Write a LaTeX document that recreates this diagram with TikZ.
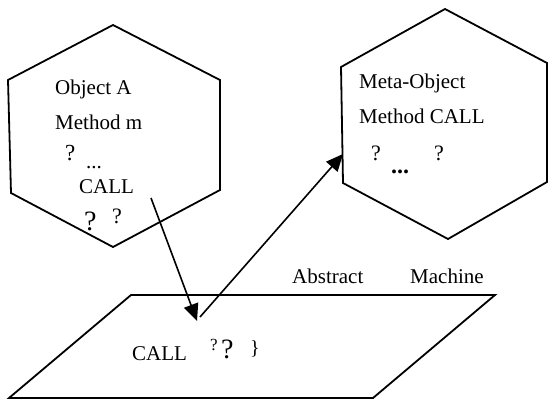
\documentclass[tikz,border=0pt]{standalone}
\usepackage{fontspec}
\setmainfont{Liberation Serif}
\usetikzlibrary{arrows.meta}
\tikzset{
  shapeline/.style={line width=1.8pt, line join=miter},
  conn/.style={line width=1.6pt, -{Triangle[length=17pt,width=15pt]}},
  txt/.style={anchor=base west, inner sep=0pt, font=\fontsize{21}{24}\selectfont},
  qm/.style={anchor=base west, inner sep=0pt},
}
\begin{document}
\begin{tikzpicture}[x=1pt,y=-1pt]
\useasboundingbox (0,0) rectangle (548,400);
% Object A hexagon
\draw[shapeline] (113,25) -- (220,80) -- (220,190) -- (113,247) -- (11,193) -- (8,80) -- cycle;
% Meta-Object hexagon
\draw[shapeline] (445,9) -- (547,63) -- (547,182) -- (448,239) -- (343,183) -- (341,67) -- cycle;
% Abstract machine plane
\draw[shapeline] (131,295) -- (495,295) -- (373,398) -- (9,398) -- cycle;
% texts in Object A
\node[txt] (oa) at (55,94) {Object A};
\node[txt] (mm) at (55,129) {Method m};
\node[qm, font=\fontsize{23}{24}\selectfont] (q1) at (65,160) {?};
\node[txt] (d1) at (86,168) {...};
\node[txt] (c1) at (79,193) {CALL};
\node[qm, font=\fontsize{28}{30}\selectfont] (q2) at (84,230) {?};
\node[qm, font=\fontsize{22}{24}\selectfont] (q3) at (112,223) {?};
% texts in Meta-Object
\node[txt] (mo) at (359,88) {Meta-Object};
\node[txt] (mc) at (359,123) {Method CALL};
\node[qm, font=\fontsize{22}{24}\selectfont] (q4) at (371,160) {?};
\node[txt, font=\fontsize{24}{24}\selectfont\bfseries] (d2) at (391,173) {...};
\node[qm, font=\fontsize{22}{24}\selectfont] (q5) at (434,160) {?};
% texts on plane
\node[txt] (ab) at (292,283) {Abstract};
\node[txt] (ma) at (410,283) {Machine};
\node[txt] (c2) at (132,360) {CALL};
\node[qm, font=\fontsize{17}{18}\selectfont] (q6) at (210,350) {?};
\node[qm, font=\fontsize{28}{30}\selectfont] (q7) at (221,358) {?};
\node[qm, font=\fontsize{20}{22}\selectfont] (br) at (250,354) {\}};
% connectors
\coordinate (s1) at (151,198);
\coordinate (t1) at (197,321);
\coordinate (s2) at (200,317);
\coordinate (t2) at (343,154);
\draw[conn] (s1) -- (t1);
\draw[conn] (s2) -- (t2);
\end{tikzpicture}
\end{document}
